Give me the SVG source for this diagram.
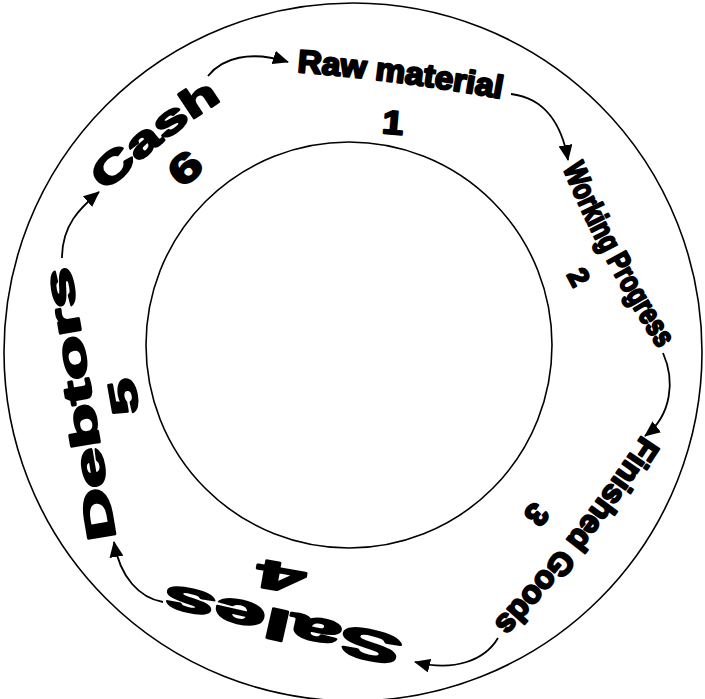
<svg xmlns="http://www.w3.org/2000/svg" xmlns:xlink="http://www.w3.org/1999/xlink" width="705" height="699" viewBox="0 0 705 699">
<style>
.ring{fill:none;stroke:#000;stroke-width:1.6}
.lbl{font-family:"Liberation Sans","DejaVu Sans",Arial,sans-serif;font-weight:bold;fill:#000;stroke:#000;stroke-width:2.2;stroke-linejoin:round}
.conn{fill:none;stroke:#000;stroke-width:1.8}
</style>
<defs>
<marker id="ah" viewBox="0 0 16 14" refX="15" refY="7" markerWidth="16" markerHeight="14" orient="auto" markerUnits="userSpaceOnUse"><path d="M0,0 L16,7 L0,14 z" fill="#000"/></marker>
<path id="pRaw" d="M297,72 Q400,80 503,99"/>
<path id="pWork" d="M563,168 Q597,252 658,348"/>
<path id="pFin" d="M642,435 Q576,536 495,622"/>
<path id="pSales" d="M404,638 L167,584"/>
<path id="pDeb" d="M116,538 L70,266"/>
<path id="pCash" d="M106,192 Q160,139 221,101"/>
</defs>
<rect width="705" height="699" fill="#fff"/>
<g id="rings">
<circle class="ring" cx="353" cy="352" r="349"/>
<circle class="ring" cx="349" cy="345" r="203"/>
</g>
<g id="raw-material">
<text class="lbl" font-size="32"><textPath xlink:href="#pRaw" textLength="206" lengthAdjust="spacingAndGlyphs">Raw material</textPath></text>
<text class="lbl" font-size="33" text-anchor="middle" transform="translate(393,122) rotate(5) scale(1.15,1)" y="12">1</text>
</g>
<g id="working-progress">
<text class="lbl" font-size="31"><textPath xlink:href="#pWork" textLength="205" lengthAdjust="spacingAndGlyphs">Working Progress</textPath></text>
<text class="lbl" font-size="28" text-anchor="middle" transform="translate(579,277) rotate(62)" y="10">2</text>
</g>
<g id="finished-goods">
<text class="lbl" font-size="32"><textPath xlink:href="#pFin" textLength="240" lengthAdjust="spacingAndGlyphs">Finished Goods</textPath></text>
<text class="lbl" font-size="32" text-anchor="middle" transform="translate(537,515) rotate(130)" y="11.5">3</text>
</g>
<g id="sales">
<text class="lbl" font-size="42"><textPath xlink:href="#pSales" textLength="243" lengthAdjust="spacingAndGlyphs">Sales</textPath></text>
<text class="lbl" font-size="40" text-anchor="middle" transform="translate(281,577) rotate(190) scale(2.2,1)" y="14">4</text>
</g>
<g id="debtors">
<text class="lbl" font-size="40"><textPath xlink:href="#pDeb" textLength="276" lengthAdjust="spacingAndGlyphs">Debtors</textPath></text>
<text class="lbl" font-size="38" text-anchor="middle" transform="translate(123,397) rotate(-100) scale(1.7,1)" y="13.5">5</text>
</g>
<g id="cash">
<text class="lbl" font-size="40"><textPath xlink:href="#pCash" textLength="148" lengthAdjust="spacingAndGlyphs">Cash</textPath></text>
<text class="lbl" font-size="40" text-anchor="middle" transform="translate(185,168) rotate(-40) scale(1.4,1)" y="14">6</text>
</g>
<g id="connectors">
<path class="conn" marker-end="url(#ah)" d="M208,76 C222,58 250,50 288,62"/>
<path class="conn" marker-end="url(#ah)" d="M511,94 C545,98 562,125 568,160"/>
<path class="conn" marker-end="url(#ah)" d="M663,353 C675,380 672,415 645,436"/>
<path class="conn" marker-end="url(#ah)" d="M498,638 C485,660 455,672 415,662"/>
<path class="conn" marker-end="url(#ah)" d="M163,602 C140,598 120,578 114,542"/>
<path class="conn" marker-end="url(#ah)" d="M62,258 C62,225 80,208 99,192"/>
</g>
</svg>
